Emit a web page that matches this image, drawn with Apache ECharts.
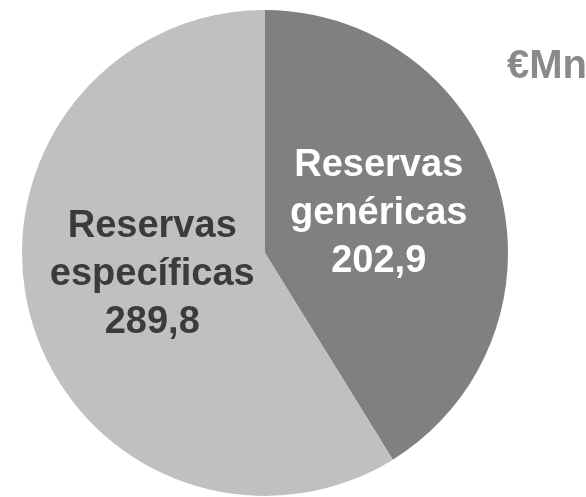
<!DOCTYPE html>
<html>
<head>
<meta charset="utf-8">
<script src="https://cdn.jsdelivr.net/npm/echarts@6/dist/echarts.min.js"></script>
<style>
  html, body { margin: 0; padding: 0; background: #fff; }
  #chart { width: 586px; height: 497px; }
</style>
</head>
<body>
<div id="chart"></div>
<script>
// Reserve breakdown (€Mn)
const categories = ['Reservas\ngenéricas', 'Reservas\nespecíficas'];
const values = [202.9, 289.8];
const sliceColors = ['#808080', '#c0c0c0'];
const labelColors = ['#ffffff', '#3b3b3b'];
const unitLabel = '€Mn';

const fmt = v => v.toFixed(1).replace('.', ',');

const chart = echarts.init(document.getElementById('chart'), null, { renderer: 'canvas' });

chart.setOption({
  backgroundColor: '#ffffff',
  animation: false,
  title: {
    text: unitLabel,
    left: 502,
    top: 42,
    textStyle: {
      fontFamily: 'Liberation Sans, Arial, sans-serif',
      fontWeight: 'bold',
      fontSize: 40,
      color: '#8a8a8a'
    }
  },
  series: [{
    type: 'pie',
    center: [265, 253],
    radius: [0, 243],
    startAngle: 90,
    clockwise: true,
    silent: true,
    itemStyle: { borderWidth: 0 },
    label: {
      show: true,
      position: 'inside',
      fontFamily: 'Liberation Sans, Arial, sans-serif',
      fontWeight: 'bold',
      fontSize: 38,
      lineHeight: 48,
      align: 'center',
      formatter: p => p.name + '\n' + fmt(p.value)
    },
    labelLine: { show: false },
    labelLayout: p => p.dataIndex === 0 ? { dx: -6, dy: -5 } : { dx: 7, dy: -13 },
    data: categories.map((name, i) => ({
      name,
      value: values[i],
      itemStyle: { color: sliceColors[i] },
      label: { color: labelColors[i] }
    }))
  }]
});
</script>
</body>
</html>
